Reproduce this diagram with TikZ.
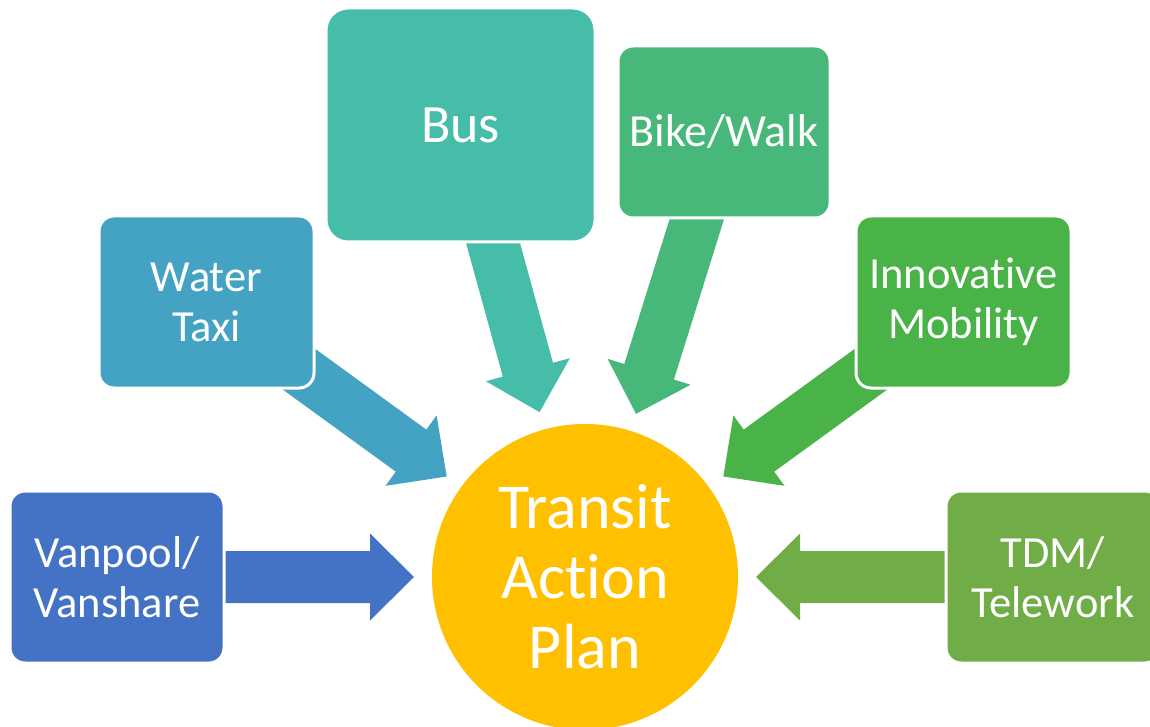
\documentclass[tikz,border=0pt]{standalone}
\usepackage{fontspec}
\setmainfont[Ligatures=NoCommon]{Carlito}
\usetikzlibrary{calc}
\pgfdeclarelayer{bg}
\pgfsetlayers{bg,main}
\definecolor{cvan}{HTML}{4472C4}
\definecolor{cwater}{HTML}{44A3C2}
\definecolor{cbus}{HTML}{46BDA8}
\definecolor{cbike}{HTML}{47B87A}
\definecolor{cinno}{HTML}{4AB348}
\definecolor{ctdm}{HTML}{70AD47}
\definecolor{cplan}{HTML}{FFC000}
\newcommand{\blockarrow}[3]{%
  \coordinate (#3h) at ($(#3)!44pt!(#2.center)$);
  \fill[#1] (#3)
    -- ($(#3h)!43.5pt!90:(#3)$)
    -- ($(#3h)!26pt!90:(#3)$)
    -- ($(#2.center)!26pt!90:(#3)$)
    -- ($(#2.center)!26pt!-90:(#3)$)
    -- ($(#3h)!26pt!-90:(#3)$)
    -- ($(#3h)!43.5pt!-90:(#3)$) -- cycle;
}
\tikzset{
  boxnode/.style={draw=white, line width=3pt, rounded corners=15pt,
    inner sep=0pt, text=white, align=center,
    font=\fontsize{44.5}{50}\selectfont},
  plannode/.style={circle, fill=cplan, inner sep=0pt, minimum size=306pt,
    text=white, align=center, font=\fontsize{64}{70}\selectfont}
}
\begin{document}
\begin{tikzpicture}[x=1pt,y=-1pt]
\useasboundingbox (0,0) rectangle (1150,727);
\node[plannode] (plan) at (585,577) {Transit\\Action\\Plan};
\node[boxnode, fill=cvan, minimum width=214pt, minimum height=172pt] (van) at (117,577) {Vanpool/\\Vanshare};
\node[boxnode, fill=cwater, minimum width=215pt, minimum height=172pt] (water) at (206.5,302) {Water\\Taxi};
\node[boxnode, fill=cbus, rounded corners=22pt, minimum width=269pt, minimum height=234pt, font=\fontsize{54}{60}\selectfont] (bus) at (460.5,125) {Bus};
\node[boxnode, fill=cbike, minimum width=212pt, minimum height=172pt, font=\fontsize{46}{52}\selectfont] (bike) at (724,132) {Bike/Walk};
\node[boxnode, fill=cinno, minimum width=215pt, minimum height=172pt] (inno) at (963.5,302) {Innovative\\Mobility};
\node[boxnode, fill=ctdm, minimum width=214pt, minimum height=172pt] (tdm) at (1053,577) {TDM/\\Telework};
\foreach \b in {van,water,bus,bike,inno,tdm}{
  \coordinate (tip\b) at ($(plan.center)!171pt!(\b.center)$);
}
\begin{pgfonlayer}{bg}
\fill[white] (0,0) rectangle (1150,727);
\blockarrow{cvan}{van}{tipvan}
\blockarrow{cwater}{water}{tipwater}
\blockarrow{cbus}{bus}{tipbus}
\blockarrow{cbike}{bike}{tipbike}
\blockarrow{cinno}{inno}{tipinno}
\blockarrow{ctdm}{tdm}{tiptdm}
\end{pgfonlayer}
\end{tikzpicture}
\end{document}
